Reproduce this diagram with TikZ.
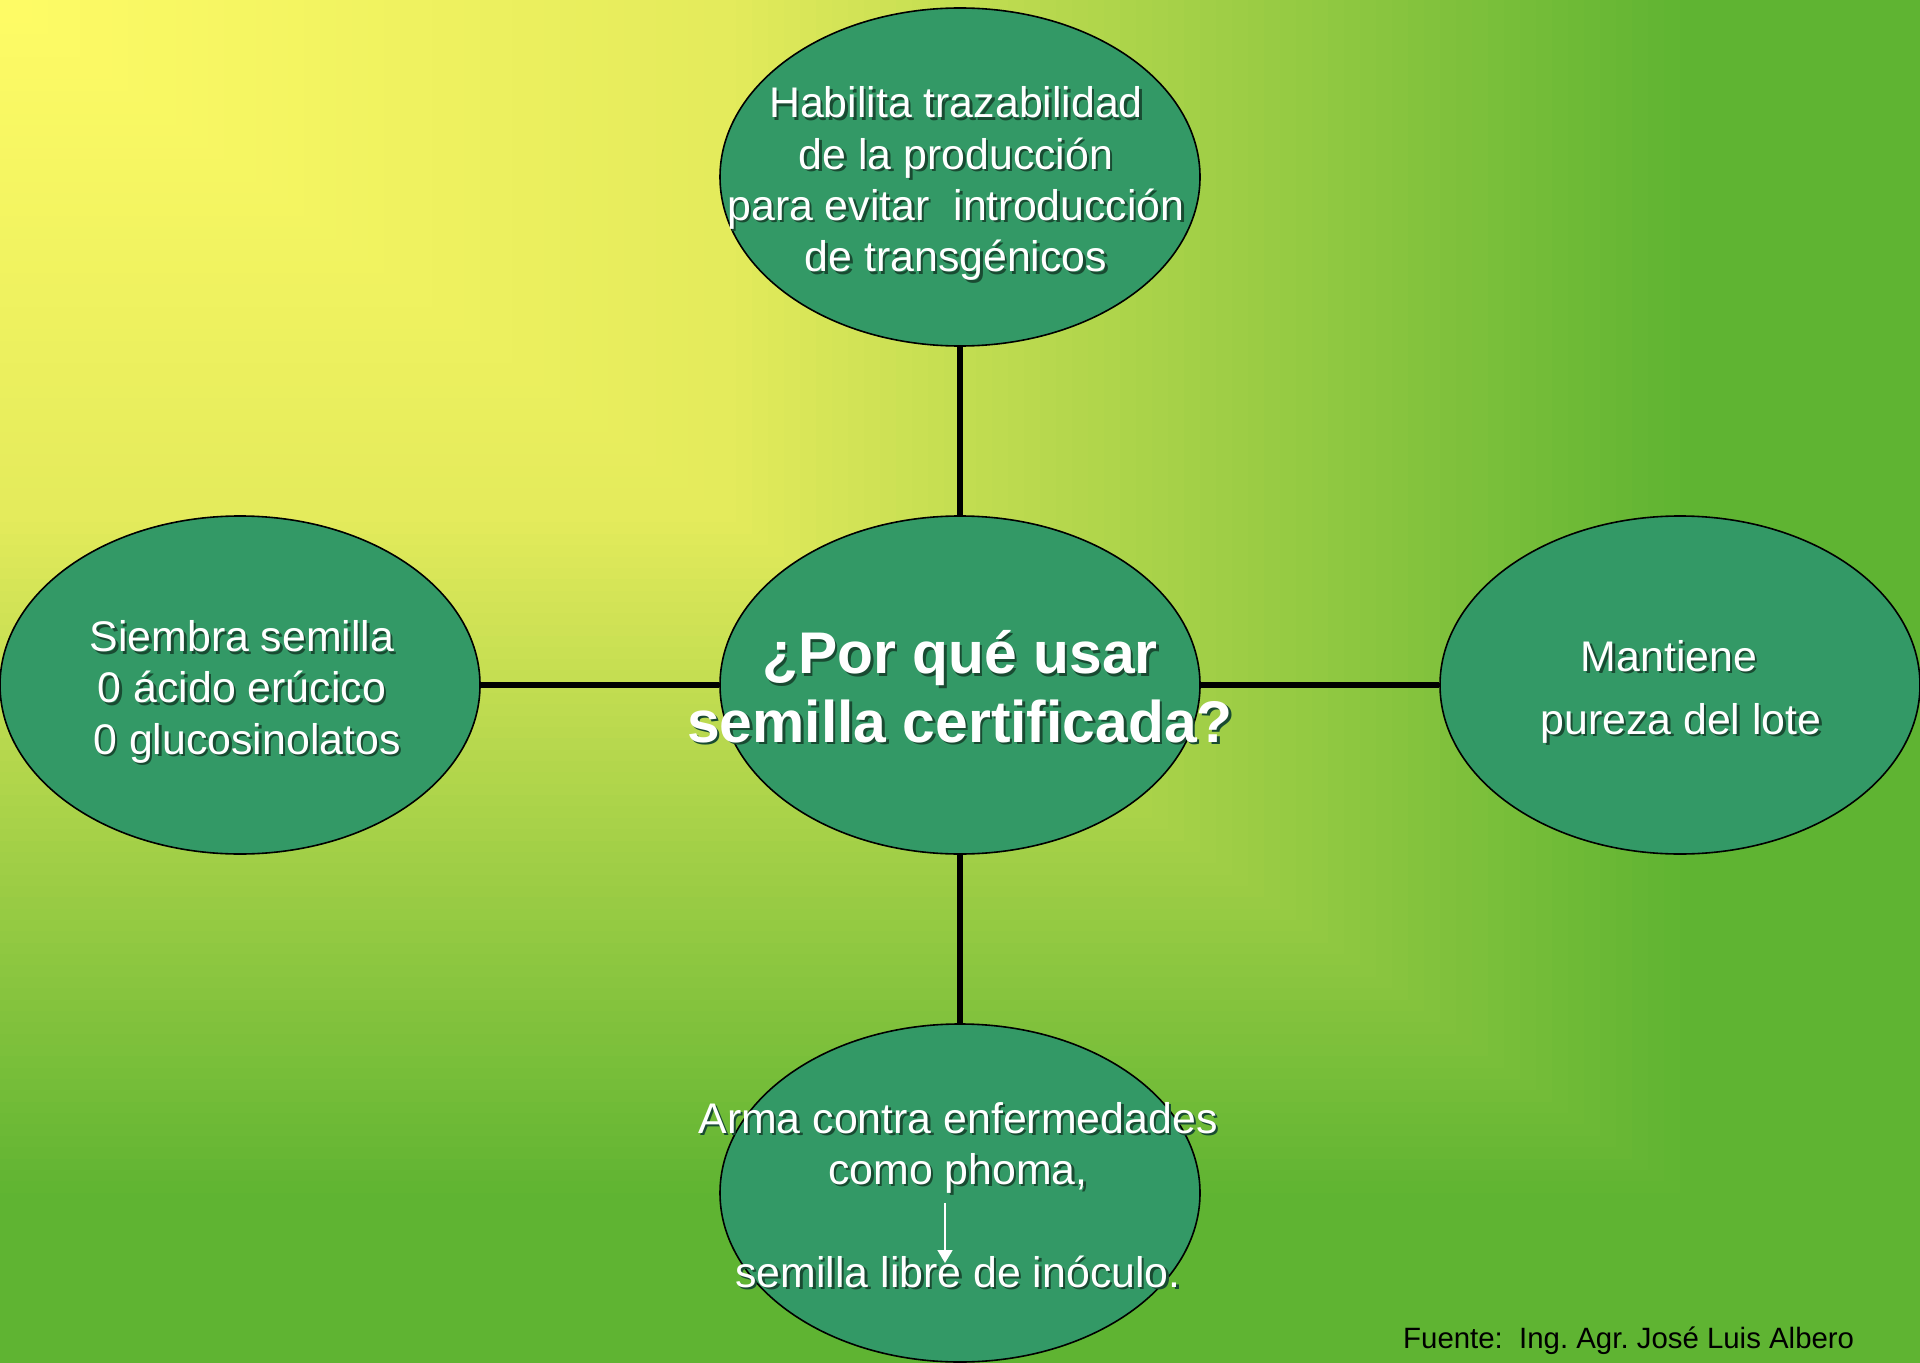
\documentclass[tikz,border=0pt]{standalone}
\usepackage{fontspec}
\setmainfont{Liberation Sans}
\usetikzlibrary{shapes.geometric,arrows.meta}
\definecolor{ellfill}{RGB}{51,153,102}
\definecolor{shadowc}{RGB}{25,75,50}
\newcommand\shtx[1]{\makebox[0pt][l]{\kern2.5bp\raisebox{-2.5bp}{\textcolor{shadowc}{#1}}}#1}
\frenchspacing
\begin{document}
\begin{tikzpicture}[x=1bp,y=-1bp,
  bubble/.style={ellipse, draw=black, line width=1.6bp, fill=ellfill,
    minimum width=480bp, minimum height=338bp, inner sep=0pt},
  btext/.style={text=white, align=center, font=\fontsize{43}{51.5}\selectfont, inner sep=0pt},
  conn/.style={line width=5.5bp, draw=black}]
\useasboundingbox (0,0) rectangle (1920,1363);
% background: gradient from the top-left corner
\begin{scope}
\clip (0,0) rectangle (1920,1363);
\foreach \i in {120,119,...,1}{
  \pgfmathsetmacro\tt{(\i-0.5)/120}
  \pgfmathtruncatemacro\rr{\tt<0.38 ? (255-27*\tt/0.38) : (\tt<0.88 ? (228-133*(\tt-0.38)/0.5) : 95)}
  \pgfmathtruncatemacro\gg{\tt<0.38 ? (252-17*\tt/0.38) : (\tt<0.88 ? (235-55*(\tt-0.38)/0.5) : 180)}
  \pgfmathtruncatemacro\bb{\tt<0.38 ? (102-10*\tt/0.38) : (\tt<0.88 ? (92-42*(\tt-0.38)/0.5) : 50)}
  \definecolor{bgc}{RGB}{\rr,\gg,\bb}
  \pgfmathsetmacro\ss{\i/120}
  \fill[bgc] (0,0) rectangle (\ss*1920,\ss*1363);
}
\end{scope}
% ellipses
\node[bubble] (top) at (960,177) {};
\node[bubble] (mid) at (960,685) {};
\node[bubble] (left) at (240,685) {};
\node[bubble] (right) at (1680,685) {};
\node[bubble] (bot) at (960,1193) {};
% connectors
\draw[conn] (mid) -- (top);
\draw[conn] (mid) -- (left);
\draw[conn] (mid) -- (right);
\draw[conn] (mid) -- (bot);
% texts
\node[btext] (topT) at (956,185) {\shtx{Habilita trazabilidad}\\\shtx{de la producción}\\\shtx{para evitar~ introducción}\\\shtx{de transgénicos}};
\node[btext, font=\fontsize{59}{69}\selectfont\bfseries] (midT) at (960,688) {\shtx{¿Por qué usar}\\\shtx{semilla certificada?}};
\node[btext] (leftT) at (242,693) {\shtx{Siembra semilla}\\\shtx{0 ácido erúcico}\\\kern10bp\shtx{0 glucosinolatos}};
\node[btext, font=\fontsize{43}{63}\selectfont] (rightT) at (1681,693) {\shtx{Mantiene}\kern24bp\\\shtx{pureza del lote}};
\node[btext] (botT) at (958,1196) {\shtx{Arma contra enfermedades}\\\shtx{como phoma,}\\[51.5bp]\shtx{semilla libre de inóculo.}};
\coordinate (arrS) at (945,1203);
\coordinate (arrE) at (945,1263);
\draw[white, line width=1.8bp, -{Triangle[width=15bp,length=13bp]}] (arrS) -- (arrE);
% source
\node[font=\fontsize{29.5}{35}\selectfont, anchor=west, inner sep=0pt, text=black] (src) at (1403,1341) {Fuente:\ \ Ing. Agr. José Luis Albero};
\end{tikzpicture}
\end{document}
